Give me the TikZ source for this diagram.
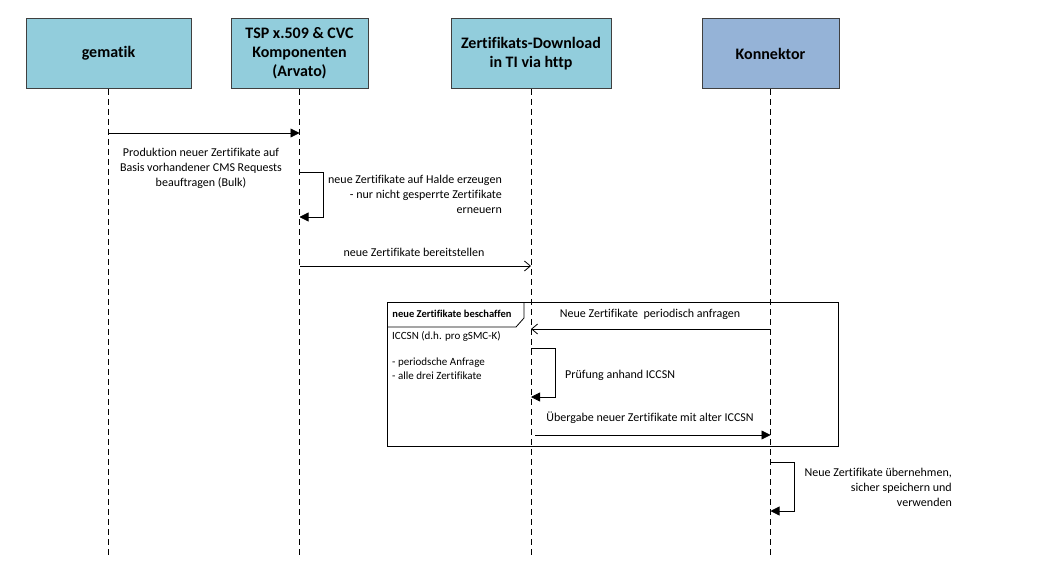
\documentclass[tikz,border=0pt]{standalone}
\usepackage{fontspec}
\setmainfont{Carlito}[Ligatures=NoCommon]
\usetikzlibrary{arrows.meta}

\tikzset{
  actor/.style={draw=black!75, line width=1pt, fill=#1, minimum height=70pt,
    align=center, font=\bfseries\fontsize{16}{19}\selectfont},
  lifeline/.style={line width=.8pt, dash pattern=on 6pt off 4pt},
  msg/.style={line width=.8pt, -{Triangle[length=9pt,width=9pt]}},
  reply/.style={line width=.8pt, -{Straight Barb[length=6pt,width=10pt,line width=.8pt]}},
  note/.style={font=\fontsize{12}{15}\selectfont, inner sep=0pt},
  small/.style={font=\fontsize{11}{14}\selectfont, inner sep=0pt}
}
\definecolor{teal}{HTML}{92CDDC}
\definecolor{konblue}{HTML}{95B3D7}

\begin{document}
\begin{tikzpicture}[x=1pt, y=-1pt]
  \useasboundingbox (0,0) rectangle (1043,588);

  % lifeline heads
  \node[actor=teal, minimum width=165pt] (gem) at (108.5,53.5) {gematik};
  \node[actor=teal, minimum width=137pt] (tsp) at (299.5,53.5) {TSP x.509 \& CVC\\Komponenten\\(Arvato)};
  \node[actor=teal, minimum width=160pt] (dl) at (531,53.5) {Zertifikats-Download\\in TI via http};
  \node[actor=konblue, minimum width=137pt] (kon) at (770.5,53.5) {Konnektor};

  \coordinate (end) at (0,558);
  \foreach \a in {gem,tsp,dl,kon}
    \draw[lifeline] (\a.south) -- (\a |- end);

  % Produktion beauftragen
  \coordinate (m1) at (0,133);
  \draw[msg] (gem |- m1) -- (tsp |- m1);
  \node[note, align=center] (m1txt) at (201,168)
    {Produktion neuer Zertifikate auf\\Basis vorhandener CMS Requests\\beauftragen (Bulk)};

  % auf Halde erzeugen
  \coordinate (s1) at (0,172);
  \coordinate (s1e) at (0,217);
  \draw[msg] (tsp |- s1) -- ++(24,0) |- (tsp |- s1e);
  \node[note, align=right, anchor=east] (s1txt) at (502,194)
    {neue Zertifikate auf Halde erzeugen\\- nur nicht gesperrte Zertifikate\\erneuern};

  % bereitstellen
  \coordinate (m2) at (0,266);
  \draw[reply] (tsp |- m2) -- (dl |- m2);
  \node[note] (m2txt) at (414,252) {neue Zertifikate bereitstellen};

  % loop frame
  \node[draw, line width=.8pt, minimum width=451pt, minimum height=144pt,
    anchor=north west, inner sep=0pt] (frame) at (387,302) {};
  \draw[line width=.8pt] (387,327) -- (516,327) -- (524,318) -- (524,302);
  \node[small, font=\bfseries\fontsize{10.5}{12}\selectfont] (tab) at (452,314) {neue Zertifikate beschaffen};
  \node[small, align=left, anchor=north west] (cond) at (392,331)
    {ICCSN (d.h. pro gSMC-K)\\[12pt]- periodsche Anfrage\\- alle drei Zertifikate};

  % periodisch anfragen
  \coordinate (m3) at (0,329);
  \draw[reply] (kon |- m3) -- (dl |- m3);
  \node[note] (m3txt) at (650,314) {Neue Zertifikate\ \ periodisch anfragen};

  % Pruefung
  \coordinate (s2) at (0,348);
  \coordinate (s2e) at (0,397);
  \draw[msg] (dl |- s2) -- ++(24,0) |- (dl |- s2e);
  \node[note, anchor=west] (s2txt) at (565,375) {Prüfung anhand ICCSN};

  % Uebergabe
  \coordinate (m4) at (535,435);
  \draw[msg] (m4) -- (kon |- m4);
  \node[note] (m4txt) at (650,418) {Übergabe neuer Zertifikate mit alter ICCSN};

  % uebernehmen
  \coordinate (s3) at (0,462);
  \coordinate (s3e) at (0,511);
  \draw[msg] (kon |- s3) -- ++(24,0) |- (kon |- s3e);
  \node[note, align=right, anchor=east] (s3txt) at (952,487)
    {Neue Zertifikate übernehmen,\\sicher speichern und\\verwenden};
\end{tikzpicture}
\end{document}
